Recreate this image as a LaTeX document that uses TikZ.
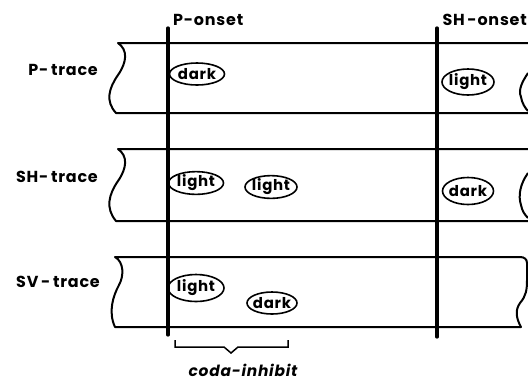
\documentclass[tikz,border=0pt]{standalone}
\usepackage{fontspec}
\newfontfamily\lblfont{Poppins}[LetterSpace=5]
\usetikzlibrary{shapes.geometric}
\newcommand\vtext[1]{\makebox[0pt]{#1}}
\begin{document}
\begin{tikzpicture}[x=1bp,y=-1bp,
  band/.style={line width=2bp, line join=round},
  onsetline/.style={line width=3.3bp, line cap=round},
  lbl/.style={font=\lblfont\fontsize{16}{16}\selectfont\bfseries, inner sep=0pt},
  val/.style={ellipse, draw, line width=1.6bp, inner sep=0pt,
    font=\lblfont\fontsize{15}{15}\selectfont\bfseries},
  bracestyle/.style={line width=1.5bp}]
\useasboundingbox (0,0) rectangle (528,383);

% band 1: P-trace
\draw[band] (528,43) -- (118,43)
  .. controls (128,50) and (127,62) .. (118,75)
  .. controls (109,88) and (105,101) .. (116,113) -- (528,113);
\draw[band] (528,73) .. controls (522,82) and (518,90) .. (521,97)
  .. controls (522,103) and (525,108) .. (528,111);
% band 2: SH-trace
\draw[band] (528,149) -- (118,149)
  .. controls (128,156) and (127,168) .. (118,181)
  .. controls (109,194) and (105,208) .. (116,221) -- (528,221);
\draw[band] (528,173) .. controls (520,184) and (518,196) .. (521,205)
  .. controls (522,211) and (525,215) .. (528,218);
% band 3: SV-trace
\draw[band] (520,257) -- (115,257)
  .. controls (124,262) and (124,276) .. (119,285)
  .. controls (113,296) and (108,312) .. (115,327) -- (521,327)
  .. controls (516,318) and (515,310) .. (520,303)
  .. controls (526,296) and (527,290) .. (527,280)
  -- (527,263) .. controls (527,259) and (524,257) .. (520,257);

% onset lines
\coordinate (ptop) at (168,28);
\coordinate (pbot) at (168,335);
\coordinate (shtop) at (437,28);
\coordinate (shbot) at (437,337);
\draw[onsetline] (ptop) -- (pbot);
\draw[onsetline] (shtop) -- (shbot);

% labels
\node[lbl, anchor=base west] (ponset) at (173,25) {P-onset};
\node[lbl, anchor=base east] (shonset) at (527,25) {SH\,-onset};
\node[lbl, anchor=base east] (ptrace) at (98,75) {P-\,trace};
\node[lbl, anchor=base east] (shtrace) at (98,182) {SH-\,trace};
\node[lbl, anchor=base east] (svtrace) at (100,287) {SV\,-\,trace};

% values
\node[val, minimum width=55bp, minimum height=22bp] (v1) at (197,74) {\vtext{dark}};
\node[val, minimum width=52bp, minimum height=26bp] (v2) at (468,82) {\vtext{light}};
\node[val, minimum width=55bp, minimum height=22bp] (v3) at (196,183) {\vtext{light}};
\node[val, minimum width=52bp, minimum height=22bp] (v4) at (271,187) {\vtext{light}};
\node[val, minimum width=51bp, minimum height=27bp] (v5) at (468,191) {\vtext{dark}};
\node[val, minimum width=56bp, minimum height=27bp] (v6) at (196,288) {\vtext{light}};
\node[val, minimum width=50bp, minimum height=22bp] (v7) at (272,303) {\vtext{dark}};

% brace
\coordinate (bl) at (175,340);
\coordinate (br) at (288,340);
\coordinate (btip) at (231,353);
\draw[bracestyle] (bl) -- (175,347) -- (224,347) -- (btip) -- (238,347) -- (288,347) -- (br);
\node[lbl, font=\lblfont\fontsize{15.5}{15.5}\selectfont\bfseries\itshape, anchor=base] (coda) at (243,376) {coda-inhibit};
\end{tikzpicture}
\end{document}
